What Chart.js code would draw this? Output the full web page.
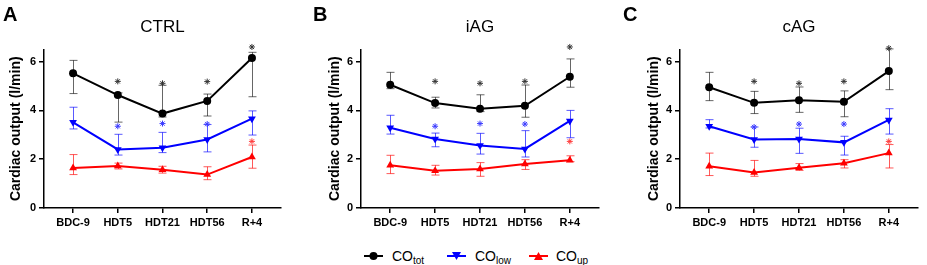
<!DOCTYPE html>
<html>
<head>
<meta charset="utf-8">
<script src="https://cdn.jsdelivr.net/npm/chart.js@4"></script>
<style>
  body { margin: 0; background: #fff; font-family: Arial, "Liberation Sans", sans-serif; }
  #wrap { position: relative; width: 927px; height: 265px; overflow: hidden; }
  canvas { position: absolute; top: 0; }
  .letter { position: absolute; top: 4px; font-weight: bold; font-size: 20px; line-height: 20px; color: #000; }
  .item { position: absolute; top: 248px; height: 16px; font-size: 14px; line-height: 16px; color: #000; }
  .item svg { position: absolute; top: 3px; }
  .item span { position: absolute; top: 0; white-space: nowrap; }
  .item sub { font-size: 10px; vertical-align: -3px; line-height: 0; }
</style>
</head>
<body>
<div id="wrap">
  <canvas id="chart-a" width="309" height="235" style="left:0"></canvas>
  <canvas id="chart-b" width="309" height="235" style="left:310px"></canvas>
  <canvas id="chart-c" width="309" height="235" style="left:620px"></canvas>
  <div class="letter" style="left:3px">A</div>
  <div class="letter" style="left:313px">B</div>
  <div class="letter" style="left:623px">C</div>

  <div class="item" style="left:364px">
    <svg width="19" height="10"><line x1="0" y1="5" x2="19" y2="5" stroke="#000" stroke-width="2"/><circle cx="9.5" cy="5" r="4" fill="#000"/></svg>
    <span style="left:28px">CO<sub>tot</sub></span>
  </div>
  <div class="item" style="left:447px">
    <svg width="19" height="10"><line x1="0" y1="5" x2="19" y2="5" stroke="#0000ff" stroke-width="2"/><polygon points="5,1 14,1 9.5,9" fill="#0000ff"/></svg>
    <span style="left:28px">CO<sub>low</sub></span>
  </div>
  <div class="item" style="left:529px">
    <svg width="19" height="10"><line x1="0" y1="5" x2="19" y2="5" stroke="#ff0000" stroke-width="2"/><polygon points="5,9 14,9 9.5,1" fill="#ff0000"/></svg>
    <span style="left:27px">CO<sub>up</sub></span>
  </div>
</div>

<script>
// time points and axis ticks
const categories = ['BDC-9', 'HDT5', 'HDT21', 'HDT56', 'R+4'];
const yTicks = [0, 2, 4, 6];

// CTRL
const ctrlTot   = [5.52, 4.63, 3.87, 4.39, 6.15];
const ctrlTotHi = [6.05, 4.72, 5.03, 4.67, 6.38];
const ctrlTotLo = [4.69, 3.52, 3.73, 3.77, 4.56];
const ctrlLow   = [3.51, 2.40, 2.47, 2.81, 3.66];
const ctrlLowHi = [4.13, 3.02, 3.10, 3.42, 3.98];
const ctrlLowLo = [3.24, 2.17, 2.27, 2.30, 2.99];
const ctrlUp    = [1.64, 1.72, 1.57, 1.37, 2.09];
const ctrlUpHi  = [2.19, 1.84, 1.71, 1.69, 2.58];
const ctrlUpLo  = [1.37, 1.60, 1.43, 1.16, 1.63];

// iAG
const iagTot   = [5.05, 4.30, 4.07, 4.19, 5.38];
const iagTotHi = [5.56, 4.54, 4.64, 5.04, 6.11];
const iagTotLo = [4.89, 4.10, 3.95, 3.72, 4.95];
const iagLow   = [3.29, 2.83, 2.56, 2.42, 3.57];
const iagLowHi = [3.80, 3.07, 3.06, 3.17, 4.00];
const iagLowLo = [3.03, 2.51, 2.21, 2.09, 2.88];
const iagUp    = [1.75, 1.53, 1.60, 1.80, 1.96];
const iagUpHi  = [2.16, 1.75, 1.86, 1.98, 2.14];
const iagUpLo  = [1.41, 1.35, 1.30, 1.58, 1.90];

// cAG
const cagTot   = [4.95, 4.31, 4.42, 4.35, 5.61];
const cagTotHi = [5.56, 4.78, 4.96, 4.80, 6.52];
const cagTotLo = [4.40, 3.87, 3.92, 3.74, 4.85];
const cagLow   = [3.35, 2.81, 2.83, 2.69, 3.61];
const cagLowHi = [3.62, 3.32, 3.27, 2.94, 4.07];
const cagLowLo = [3.28, 2.49, 2.24, 2.17, 3.03];
const cagUp    = [1.71, 1.46, 1.65, 1.83, 2.25];
const cagUpHi  = [2.25, 1.95, 1.82, 1.98, 2.60];
const cagUpLo  = [1.33, 1.30, 1.54, 1.64, 1.64];

// significance marks (y position of the asterisk, null = none)
const ctrlTotStar = [null, 5.19, 5.11, 5.18, 6.60];
const ctrlLowStar = [null, 3.35, 3.46, 3.44, null];
const ctrlUpStar  = [null, null, null, null, 2.73];
const iagTotStar  = [null, 5.19, 5.11, 5.19, 6.60];
const iagLowStar  = [null, 3.35, 3.46, 3.44, null];
const iagUpStar   = [null, null, null, null, 2.73];
const cagTotStar  = [null, 5.19, 5.11, 5.19, 6.55];
const cagLowStar  = [null, 3.32, 3.44, 3.44, null];
const cagUpStar   = [null, null, null, null, 2.73];

const FONT = 'Arial, "Liberation Sans", sans-serif';
const BLACK = '#000000', BLUE = '#0000ff', RED = '#ff0000';

const pts = arr => arr.map((v, i) => (v == null ? null : { x: i, y: v })).filter(Boolean);

// draws the error bars under the lines
const errorBars = {
  id: 'errorBars',
  beforeDatasetsDraw(chart, args, opts) {
    const { ctx } = chart;
    const x = chart.scales.x, y = chart.scales.y;
    opts.bars.forEach(b => {
      ctx.save();
      ctx.strokeStyle = b.color;
      ctx.lineWidth = 1;
      b.hi.forEach((hv, i) => {
        const px = Math.round(x.getPixelForValue(i)) + 0.5;
        const yh = y.getPixelForValue(hv);
        const yl = y.getPixelForValue(b.lo[i]);
        ctx.beginPath();
        ctx.moveTo(px, yh); ctx.lineTo(px, yl);
        ctx.moveTo(px - 4, yh); ctx.lineTo(px + 4, yh);
        ctx.moveTo(px - 4, yl); ctx.lineTo(px + 4, yl);
        ctx.stroke();
      });
      ctx.restore();
    });
  }
};

function lineSet(data, color, style, rot) {
  return {
    type: 'line', data: pts(data), borderColor: color, backgroundColor: color,
    borderWidth: 2, tension: 0, pointStyle: style, pointRotation: rot || 0,
    pointRadius: style === 'circle' ? 4 : 4.5, pointBorderWidth: 0
  };
}

function starSet(data, color) {
  return {
    type: 'scatter', data: pts(data), borderColor: color, backgroundColor: color,
    pointStyle: 'star', pointRadius: 3, borderWidth: 1, showLine: false, clip: false
  };
}

function makePanel(id, title, yWidth, padRight, labelPad, s) {
  const ctx = document.getElementById(id).getContext('2d');
  return new Chart(ctx, {
    data: {
      datasets: [
        lineSet(s.tot, BLACK, 'circle'),
        lineSet(s.low, BLUE, 'triangle', 180),
        lineSet(s.up, RED, 'triangle'),
        starSet(s.totStar, '#333333'),
        starSet(s.lowStar, '#3b3bff'),
        starSet(s.upStar, '#ff3b3b')
      ]
    },
    options: {
      responsive: false,
      animation: false,
      events: [],
      layout: { padding: { left: 0, right: padRight, top: 0, bottom: 0 } },
      plugins: {
        legend: { display: false },
        tooltip: { enabled: false },
        title: {
          display: true, text: title, fullSize: false, color: '#000',
          font: { family: FONT, size: 17, weight: 'normal' },
          padding: { top: 17, bottom: 12 }
        },
        errorBars: {
          bars: [
            { hi: s.totHi, lo: s.totLo, color: 'rgba(0,0,0,0.6)' },
            { hi: s.lowHi, lo: s.lowLo, color: 'rgba(0,0,255,0.65)' },
            { hi: s.upHi, lo: s.upLo, color: 'rgba(255,0,0,0.65)' }
          ]
        }
      },
      scales: {
        x: {
          type: 'linear', min: -0.65, max: 4.65,
          afterBuildTicks: sc => { sc.ticks = categories.map((c, i) => ({ value: i })); },
          afterFit: sc => { sc.height = 27; },
          ticks: {
            color: '#000', padding: 3, maxRotation: 0, autoSkip: false,
            font: { family: FONT, size: 11, weight: 'bold' },
            callback: v => categories[v]
          },
          grid: { drawOnChartArea: false, drawTicks: true, tickLength: 5, color: '#000', lineWidth: 1.5 },
          border: { color: '#000', width: 1.5 }
        },
        y: {
          type: 'linear', min: 0, max: 6.5,
          afterBuildTicks: sc => { sc.ticks = yTicks.map(v => ({ value: v })); },
          afterFit: sc => { sc.width = yWidth; },
          ticks: { color: '#000', padding: 3, font: { family: FONT, size: 11, weight: 'bold' } },
          grid: { drawOnChartArea: false, drawTicks: true, tickLength: 5, color: '#000', lineWidth: 1.5 },
          border: { color: '#000', width: 1.5 },
          title: {
            display: true, text: 'Cardiac output (l/min)', color: '#000',
            font: { family: FONT, size: 14, weight: 'bold' },
            padding: { top: labelPad, bottom: 0 }
          }
        }
      }
    },
    plugins: [errorBars]
  });
}

makePanel('chart-a', 'CTRL', 44, 28, 8, {
  tot: ctrlTot, totHi: ctrlTotHi, totLo: ctrlTotLo,
  low: ctrlLow, lowHi: ctrlLowHi, lowLo: ctrlLowLo,
  up: ctrlUp, upHi: ctrlUpHi, upLo: ctrlUpLo,
  totStar: ctrlTotStar, lowStar: ctrlLowStar, upStar: ctrlUpStar
});
makePanel('chart-b', 'iAG', 51, 20, 17, {
  tot: iagTot, totHi: iagTotHi, totLo: iagTotLo,
  low: iagLow, lowHi: iagLowHi, lowLo: iagLowLo,
  up: iagUp, upHi: iagUpHi, upLo: iagUpLo,
  totStar: iagTotStar, lowStar: iagLowStar, upStar: iagUpStar
});
makePanel('chart-c', 'cAG', 60, 11, 26, {
  tot: cagTot, totHi: cagTotHi, totLo: cagTotLo,
  low: cagLow, lowHi: cagLowHi, lowLo: cagLowLo,
  up: cagUp, upHi: cagUpHi, upLo: cagUpLo,
  totStar: cagTotStar, lowStar: cagLowStar, upStar: cagUpStar
});
</script>
</body>
</html>
